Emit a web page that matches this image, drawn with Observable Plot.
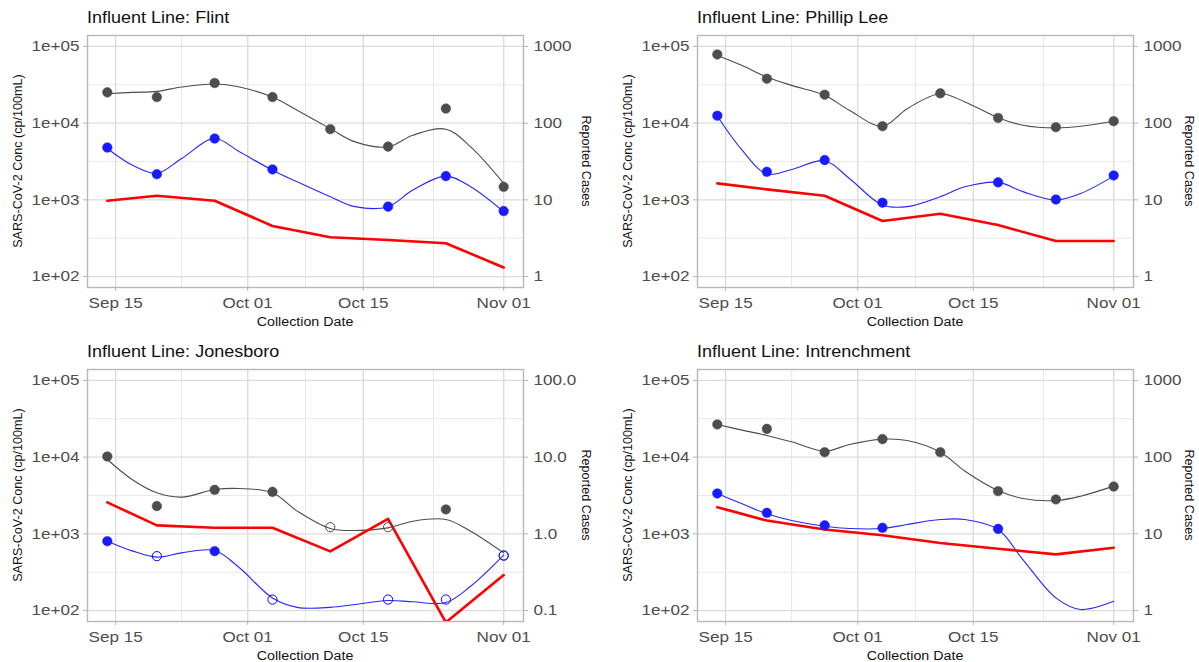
<!DOCTYPE html>
<html><head><meta charset="utf-8">
<script src="https://cdn.jsdelivr.net/npm/d3@7"></script>
<script src="https://cdn.jsdelivr.net/npm/@observablehq/plot@0.6"></script>
<style>
body{margin:0;background:#fff;font-family:"Liberation Sans",Arial,sans-serif;}
#wrap{position:relative;width:1199px;height:662px;overflow:hidden;background:#fff}
.panel{position:absolute}
.panel svg{display:block}
.ttl{position:absolute;font-size:15.8px;line-height:16px;color:#111;white-space:nowrap;transform-origin:0 50%;transform:scaleX(1.14)}
.lab{position:absolute;font-size:12.6px;line-height:13px;color:#111;white-space:nowrap}
</style></head>
<body><div id="wrap"></div>
<script>
// ---- data ----
const sites = ["Flint", "Phillip Lee", "Jonesboro", "Intrenchment"];
const caseFactors = [100, 100, 1000, 100]; // secondary axis: conc = cases * factor
const sampleDates = ["2020-09-14","2020-09-20","2020-09-27","2020-10-04","2020-10-11","2020-10-18","2020-10-25","2020-11-01"];
const smoothDates = ["2020-09-14","2020-09-17","2020-09-20","2020-09-23","2020-09-27","2020-09-30","2020-10-04","2020-10-07","2020-10-11","2020-10-14","2020-10-18","2020-10-21","2020-10-25","2020-10-28","2020-11-01"];

// gray marker concentration (cp/100mL)
const flintGray        = [25200, 21900, 33400, 21900, 8340, 4950, 15500, 1480];
const phillipGray      = [78700, 38000, 23500, 9120, 24500, 11700, 8850, 10600];
const jonesboroGray    = [10200, 2300, 3750, 3530, 1220, 1220, 2080, 521];
const intrenchmentGray = [26700, 23400, 11600, 17200, 11600, 3600, 2810, 4140];
// blue marker concentration (cp/100mL)
const flintBlue        = [4810, 2160, 6300, 2490, null, 815, 2040, 714];
const phillipBlue      = [12500, 2320, 3300, 918, null, 1690, 1010, 2080];
const jonesboroBlue    = [802, 512, 594, 139, null, 139, 139, 521];
const intrenchmentBlue = [3360, 1880, 1290, 1200, null, 1160, null, null];
// detected (1 = filled) / below detection (0 = open circle)
const jonesboroGrayDetected = [1, 1, 1, 1, 0, 0, 1, 0];
const jonesboroBlueDetected = [1, 0, 1, 0, 0, 0, 0, 0];
// reported cases
const flintCases        = [9.75, 11.3, 9.75, 4.56, 3.25, 3.0, 2.72, 1.31];
const phillipCases      = [16.4, 13.7, 11.3, 5.3, 6.6, 4.7, 2.9, 2.9];
const jonesboroCases    = [2.57, 1.29, 1.2, 1.2, 0.59, 1.57, 0.07, 0.29];
const intrenchmentCases = [22.3, 14.9, 11.4, 9.6, 7.6, 6.4, 5.4, 6.6];
// smoothed trend lines
const flintGraySmooth        = [24200, 25200, 26000, 29600, 32400, 29600, 21900, 14700, 8490, 5700, 4910, 6970, 8340, 4910, 1640];
const flintBlueSmooth        = [4670, 2840, 2210, 3460, 6300, 4230, 2440, 1720, 1100, 815, 815, 1340, 2040, 1480, 700];
const phillipGraySmooth      = [76400, 56600, 39900, 31100, 23100, 14700, 9120, 15450, 24200, 18900, 11800, 9400, 8670, 9120, 10600];
const phillipBlueSmooth      = [12300, 4450, 2170, 2490, 3230, 1900, 855, 815, 1100, 1480, 1690, 1280, 993, 1210, 2040];
const jonesboroGraySmooth    = [9330, 5120, 3430, 3010, 3780, 3900, 3430, 1980, 1175, 1105, 1197, 1462, 1538, 1084, 565];
const jonesboroBlueSmooth    = [802, 600, 497, 565, 607, 361, 146, 110, 110, 120, 135, 130, 127, 207, 527];
const intrenchmentGraySmooth = [26700, 22500, 19200, 15850, 11970, 14620, 17180, 16490, 11620, 6560, 3670, 2890, 2720, 3100, 4190];
const intrenchmentBlueSmooth = [3360, 2460, 1824, 1493, 1259, 1175, 1175, 1324, 1538, 1538, 1140, 462, 146, 103, 132];

const majorXTicks = ["2020-09-15","2020-10-01","2020-10-15","2020-11-01"];
const minorXTicks = ["2020-09-23","2020-10-08","2020-10-23T12:00"];
const majorYTicks = [1e2, 1e3, 1e4, 1e5];
const minorYTicks = [10**2.5, 10**3.5, 10**4.5];

const grays = [flintGray, phillipGray, jonesboroGray, intrenchmentGray];
const blues = [flintBlue, phillipBlue, jonesboroBlue, intrenchmentBlue];
const casesAll = [flintCases, phillipCases, jonesboroCases, intrenchmentCases];
const graySm = [flintGraySmooth, phillipGraySmooth, jonesboroGraySmooth, intrenchmentGraySmooth];
const blueSm = [flintBlueSmooth, phillipBlueSmooth, jonesboroBlueSmooth, intrenchmentBlueSmooth];
const grayDet = [null, null, jonesboroGrayDetected, null];
const blueDet = [null, null, jonesboroBlueDetected, null];

// ---- drawing ----
const SX = 1.14; // horizontal text stretch of the original rendering
const toDate = s => new Date(s.length > 10 ? s + "Z" : s + "T00:00Z");
const xDomain = [new Date(Date.UTC(2020, 8, 11, 14, 24)), new Date(Date.UTC(2020, 10, 3, 9, 36))];
const yDomain = [10**1.857, 10**5.143];
const GRAY = "#4d4d4d", BLUE = "#0000ff";
const wrap = document.getElementById("wrap");

function stretchText(svg) {
  svg.querySelectorAll("text").forEach(t => {
    const xs = t.getAttribute("x"), ys = t.getAttribute("y");
    const xa = xs == null ? 0 : parseFloat(xs), ya = ys == null ? 0 : parseFloat(ys);
    if (!isFinite(xa) || !isFinite(ya)) return;
    const tr = t.getAttribute("transform") || "";
    t.setAttribute("transform", `${tr} translate(${xa},${ya}) scale(${SX},1) translate(${-xa},${-ya})`.trim());
  });
}

function makePanel(i) {
  const right = i % 2 === 1;
  const left0 = right ? 610 : 0, top0 = i >= 2 ? 334 : 0;
  const width = right ? 589 : 600, height = 335;
  const mL = 87, mR = width - 523, mT = 35, mB = 48;
  const factor = caseFactors[i];
  const samples = sampleDates.map((d, j) => ({
    date: toDate(d), gray: grays[i][j], blue: blues[i][j], cases: casesAll[i][j],
    gDet: grayDet[i] ? grayDet[i][j] : 1, bDet: blueDet[i] ? blueDet[i][j] : 1
  }));
  const smooth = smoothDates.map((d, j) => ({date: toDate(d), gray: graySm[i][j], blue: blueSm[i][j]}));
  const rightFmt = factor === 1000 ? (d => (d / factor).toFixed(1)) : (d => String(Math.round(d / factor)));
  const svg = Plot.plot({
    width, height, marginLeft: mL, marginRight: mR, marginTop: mT, marginBottom: mB,
    x: {type: "utc", domain: xDomain},
    y: {type: "log", domain: yDomain},
    style: {fontFamily: "'Liberation Sans', Arial, sans-serif", fontSize: "15px", color: "#4d4d4d", background: "white", overflow: "visible"},
    marks: [
      Plot.gridY(minorYTicks, {stroke: "#e4e4e4", strokeOpacity: 1, strokeWidth: 0.8}),
      Plot.gridX(minorXTicks.map(toDate), {stroke: "#e4e4e4", strokeOpacity: 1, strokeWidth: 0.9}),
      Plot.gridY(majorYTicks, {stroke: "#dcdcdc", strokeOpacity: 1, strokeWidth: 1.3}),
      Plot.gridX(majorXTicks.map(toDate), {stroke: "#dcdcdc", strokeOpacity: 1, strokeWidth: 1.4}),
      Plot.frame({stroke: "#b8b8b8", strokeWidth: 1.4}),
      Plot.axisX({ticks: majorXTicks.map(toDate), tickFormat: d3.utcFormat("%b %d"), tickSize: 4, tickPadding: 6, label: null, stroke: "#b3b3b3", fill: "#4d4d4d"}),
      Plot.axisY({ticks: majorYTicks, anchor: "left", tickFormat: d => "1e+0" + Math.round(Math.log10(d)), tickSize: 4, tickPadding: 4, label: null, stroke: "#b3b3b3", fill: "#4d4d4d"}),
      Plot.axisY({ticks: majorYTicks, anchor: "right", tickFormat: rightFmt, tickSize: 4, tickPadding: 6, label: null, stroke: "#b3b3b3", fill: "#4d4d4d"}),
      Plot.line(smooth, {x: "date", y: "gray", curve: "catmull-rom", stroke: GRAY, strokeWidth: 1.1, clip: true}),
      Plot.line(smooth, {x: "date", y: "blue", curve: "catmull-rom", stroke: BLUE, strokeWidth: 1.1, strokeOpacity: 0.85, clip: true}),
      Plot.line(samples, {x: "date", y: d => d.cases * factor, stroke: "#ff0000", strokeWidth: 2.6, clip: true}),
      Plot.dot(samples.filter(d => d.gray != null && d.gDet), {x: "date", y: "gray", r: 4.8, fill: GRAY, stroke: GRAY, strokeWidth: 0.5}),
      Plot.dot(samples.filter(d => d.gray != null && !d.gDet), {x: "date", y: "gray", r: 4.6, fill: "none", stroke: GRAY, strokeWidth: 1}),
      Plot.dot(samples.filter(d => d.blue != null && d.bDet), {x: "date", y: "blue", r: 4.8, fill: "#1a1aff", stroke: "#1a1aff", strokeWidth: 0.5}),
      Plot.dot(samples.filter(d => d.blue != null && !d.bDet), {x: "date", y: "blue", r: 4.6, fill: "none", stroke: BLUE, strokeWidth: 1})
    ]
  });
  stretchText(svg);
  const div = document.createElement("div");
  div.className = "panel";
  div.style.left = left0 + "px"; div.style.top = top0 + "px";
  div.style.width = width + "px"; div.style.height = height + "px";
  div.appendChild(svg);
  const cx = (mL + 523) / 2, cy = (mT + (height - mB)) / 2;
  const add = (cls, text, css) => {
    const e = document.createElement("div");
    e.className = cls; e.textContent = text;
    Object.assign(e.style, css);
    div.appendChild(e);
  };
  add("ttl", "Influent Line: " + sites[i], {left: mL + "px", top: "10px"});
  add("lab", "SARS-CoV-2 Conc (cp/100mL)", {left: "17.5px", top: cy + "px", transform: "translate(-50%,-50%) rotate(-90deg)"});
  add("lab", "Reported Cases", {left: (523 + (right ? 55 : 61.5)) + "px", top: cy + "px", transform: "translate(-50%,-50%) rotate(90deg)"});
  add("lab", "Collection Date", {left: cx + "px", top: "321.5px", fontSize: "12.5px", transform: `translate(-50%,-50%) scaleX(${SX})`});
  wrap.appendChild(div);
}
[0, 1, 2, 3].forEach(makePanel);
</script></body></html>
